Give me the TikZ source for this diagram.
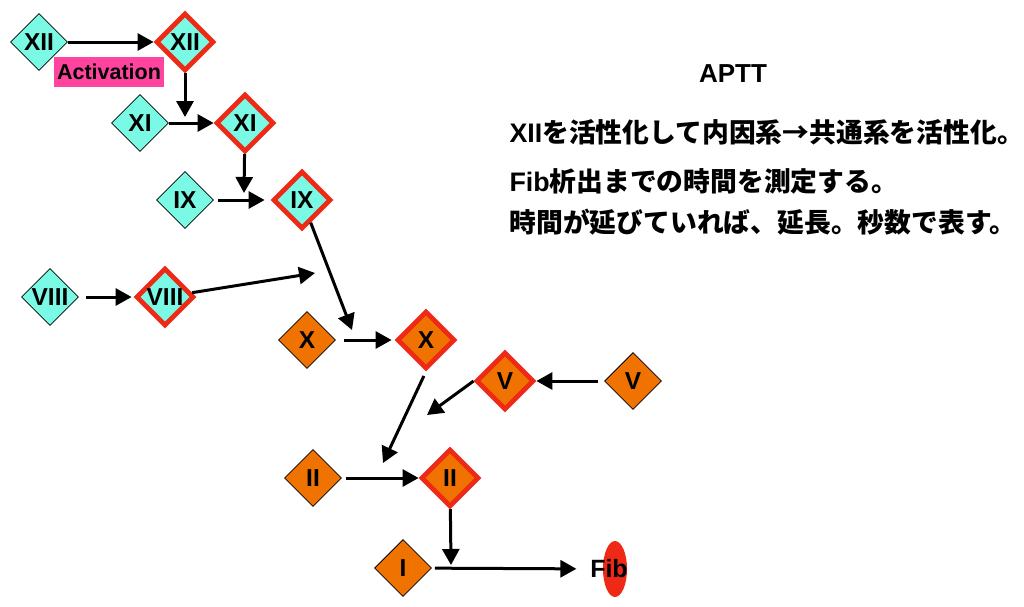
\documentclass[tikz,border=0pt]{standalone}
\usepackage{fontspec}
\setmainfont{Liberation Sans}
\newfontfamily\jpfont{Noto Sans CJK JP}
\usetikzlibrary{arrows.meta, positioning, shapes.geometric}
\definecolor{aqua}{RGB}{122,250,228}
\definecolor{amber}{RGB}{240,114,0}
\definecolor{rim}{RGB}{238,42,22}
\definecolor{hotpink}{RGB}{255,68,160}

\tikzset{
  factor/.style={diamond, draw=black, line width=0.8pt, minimum size=57pt, inner sep=0pt,
    text height=17pt, text depth=0pt, font=\fontsize{24.5}{24.5}\selectfont\bfseries},
  active/.style={draw=rim, line width=4.8pt, minimum size=58pt},
  contact/.style={factor, fill=aqua},
  common/.style={factor, fill=amber},
  note/.style={anchor=base west, inner sep=0pt, font=\fontsize{26.8}{30}\selectfont\bfseries},
}

\begin{document}
\begin{tikzpicture}[
        x=1pt, y=-1pt, line width=3pt, node distance=100pt, on grid,
        >={Triangle[length=16pt,width=17pt]},
        ]
        \useasboundingbox (0,0) rectangle (1024,606);

        % intrinsic factors
        \node[contact]                          (xii)   at (39,42)  {XII};
        \node[contact,active,right=146pt of xii] (xiia)             {XII};
        \node[contact]                          (xi)    at (140,123) {XI};
        \node[contact,active,right=105pt of xi]  (xia)              {XI};
        \node[contact]                          (ix)    at (185,200) {IX};
        \node[contact,active,right=117pt of ix]  (ixa)              {IX};
        \node[contact]                          (viii)  at (50,297) {VIII};
        \node[contact,active,right=115pt of viii] (viiia)           {VIII};
        \node[fill=hotpink, inner xsep=3.5pt, minimum height=30pt, text height=15.5pt, text depth=0pt,
              font=\fontsize{21.5}{21.5}\selectfont\bfseries] (act) at (109,72) {Activation};

        % common pathway
        \node[common]                           (x)     at (307,340) {X};
        \node[common,active,right=119pt of x]    (xa)               {X};
        \node[common]                           (v)     at (633,381) {V};
        \node[common,active,left=128pt of v]     (va)               {V};
        \node[common]                           (ii)    at (313,478) {II};
        \node[common,active,right=137pt of ii]   (iia)              {II};
        \node[common]                           (i)     at (403,568) {I};
        \node[ellipse, fill=rim, minimum width=24pt, minimum height=56pt, inner sep=0pt] (fibdot) at (615,569) {};
        \node[font=\fontsize{25}{25}\selectfont\bfseries] (fib) at (609,569) {Fib};

        \coordinate (hitxi)   at (185,117);
        \coordinate (hitix)   at (244,193);
        \coordinate (hitx)    at (352,330);
        \coordinate (hitviii) at (315,273);
        \coordinate (hitii)   at (383,463);
        \coordinate (hitv)    at (427,415);
        \coordinate (hiti)    at (451,565);

        \path[->] (xii) edge (xiia)
                  (xiia) edge (hitxi)
                  (xi) edge (xia)
                  (xia) edge (hitix)
                  (ix) edge[shorten <=4pt, shorten >=6pt] (ixa)
                  (ixa) edge (hitx)
                  (viii) edge[shorten <=7pt, shorten >=2pt] (viiia)
                  (viiia) edge (hitviii)
                  (x) edge[shorten <=8pt, shorten >=3pt] (xa)
                  (xa.south) edge[shorten <=5pt] (hitii)
                  (v) edge[shorten <=6pt] (va)
                  (va.west) edge (hitv)
                  (ii) edge[shorten <=4pt] (iia)
                  (iia) edge (hiti)
                  (i) edge[shorten <=3pt, shorten >=9pt] (fib);

        \node[font=\fontsize{26}{26}\selectfont\bfseries] (aptt) at (733,74) {APTT};
        \node[note] (line1) at (508,142) {XII{\jpfont を活性化して内因系→共通系を活性化。}};
        \node[note] (line2) at (508,191) {Fib{\jpfont 析出までの時間を測定する。}};
        \node[note] (line3) at (508,232) {{\jpfont 時間が延びていれば、延長。秒数で表す。}};
\end{tikzpicture}
\end{document}
